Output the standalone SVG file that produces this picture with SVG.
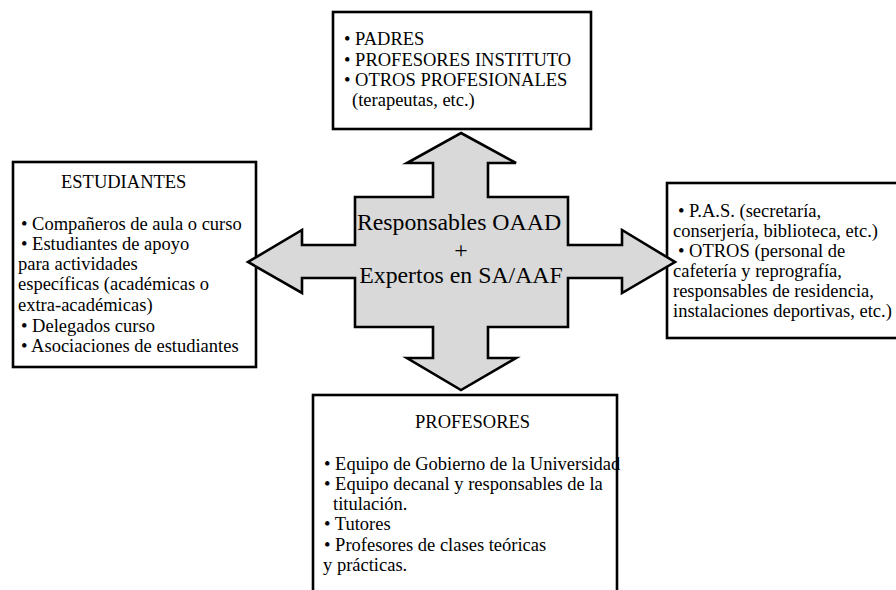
<svg xmlns="http://www.w3.org/2000/svg" width="896" height="590" viewBox="0 0 896 590">
<style>
.box{fill:#fff;stroke:#000;stroke-width:2.6}
.t{font-family:"Liberation Serif","Times New Roman",serif;font-size:18.5px;fill:#000}
.c{font-family:"Liberation Serif","Times New Roman",serif;font-size:23.8px;fill:#000;text-anchor:middle}
.arrow{fill:#d9d9d9;stroke:#000;stroke-width:2.6;stroke-linejoin:miter}
</style>
<rect width="896" height="590" fill="#fff"/>
<g id="node-top">
<rect class="box" x="333" y="12" width="258" height="117"/>
<text class="t" x="344" y="45">• PADRES</text>
<text class="t" x="344" y="66">• PROFESORES INSTITUTO</text>
<text class="t" x="344" y="86">• OTROS PROFESIONALES</text>
<text class="t" x="352" y="106">(terapeutas, etc.)</text>
</g>
<g id="node-left">
<rect class="box" x="13" y="162" width="243" height="205"/>
<text class="t" x="61" y="188">ESTUDIANTES</text>
<text class="t" x="21" y="230">• Compañeros de aula o curso</text>
<text class="t" x="21" y="250">• Estudiantes de apoyo</text>
<text class="t" x="18" y="270">para actividades</text>
<text class="t" x="18" y="290">específicas (académicas o</text>
<text class="t" x="18" y="311">extra-académicas)</text>
<text class="t" x="21" y="332">• Delegados curso</text>
<text class="t" x="21" y="352">• Asociaciones de estudiantes</text>
</g>
<g id="node-right">
<rect class="box" x="667" y="183" width="240" height="155"/>
<text class="t" x="678" y="217">• P.A.S. (secretaría,</text>
<text class="t" x="673" y="237">conserjería, biblioteca, etc.)</text>
<text class="t" x="678" y="257">• OTROS (personal de</text>
<text class="t" x="673" y="277">cafetería y reprografía,</text>
<text class="t" x="673" y="297">responsables de residencia,</text>
<text class="t" x="673" y="317">instalaciones deportivas, etc.)</text>
</g>
<g id="node-bottom">
<rect class="box" x="313" y="395" width="304" height="210"/>
<text class="t" x="415" y="428">PROFESORES</text>
<text class="t" x="324" y="470">• Equipo de Gobierno de la Universidad</text>
<text class="t" x="324" y="490">• Equipo decanal y responsables de la</text>
<text class="t" x="333" y="510">titulación.</text>
<text class="t" x="324" y="530">• Tutores</text>
<text class="t" x="324" y="551">• Profesores de clases teóricas</text>
<text class="t" x="323" y="571">y prácticas.</text>
</g>
<g id="connectors">
<path class="arrow" d="M461,133 L516,163 L488,163 L488,197 L568,197 L568,245 L622,245 L622,230 L675,262 L622,293 L622,278 L568,278 L568,327 L488,327 L488,358 L516,358 L461,390 L407,358 L433,358 L433,327 L355,327 L355,278 L302,278 L302,293 L248,262 L302,230 L302,245 L355,245 L355,197 L433,197 L433,163 L407,163 Z"/>
</g>
<g id="node-center">
<text class="c" x="459" y="230">Responsables OAAD</text>
<text class="c" x="461" y="258">+</text>
<text class="c" x="461" y="283">Expertos en SA/AAF</text>
</g>
</svg>
